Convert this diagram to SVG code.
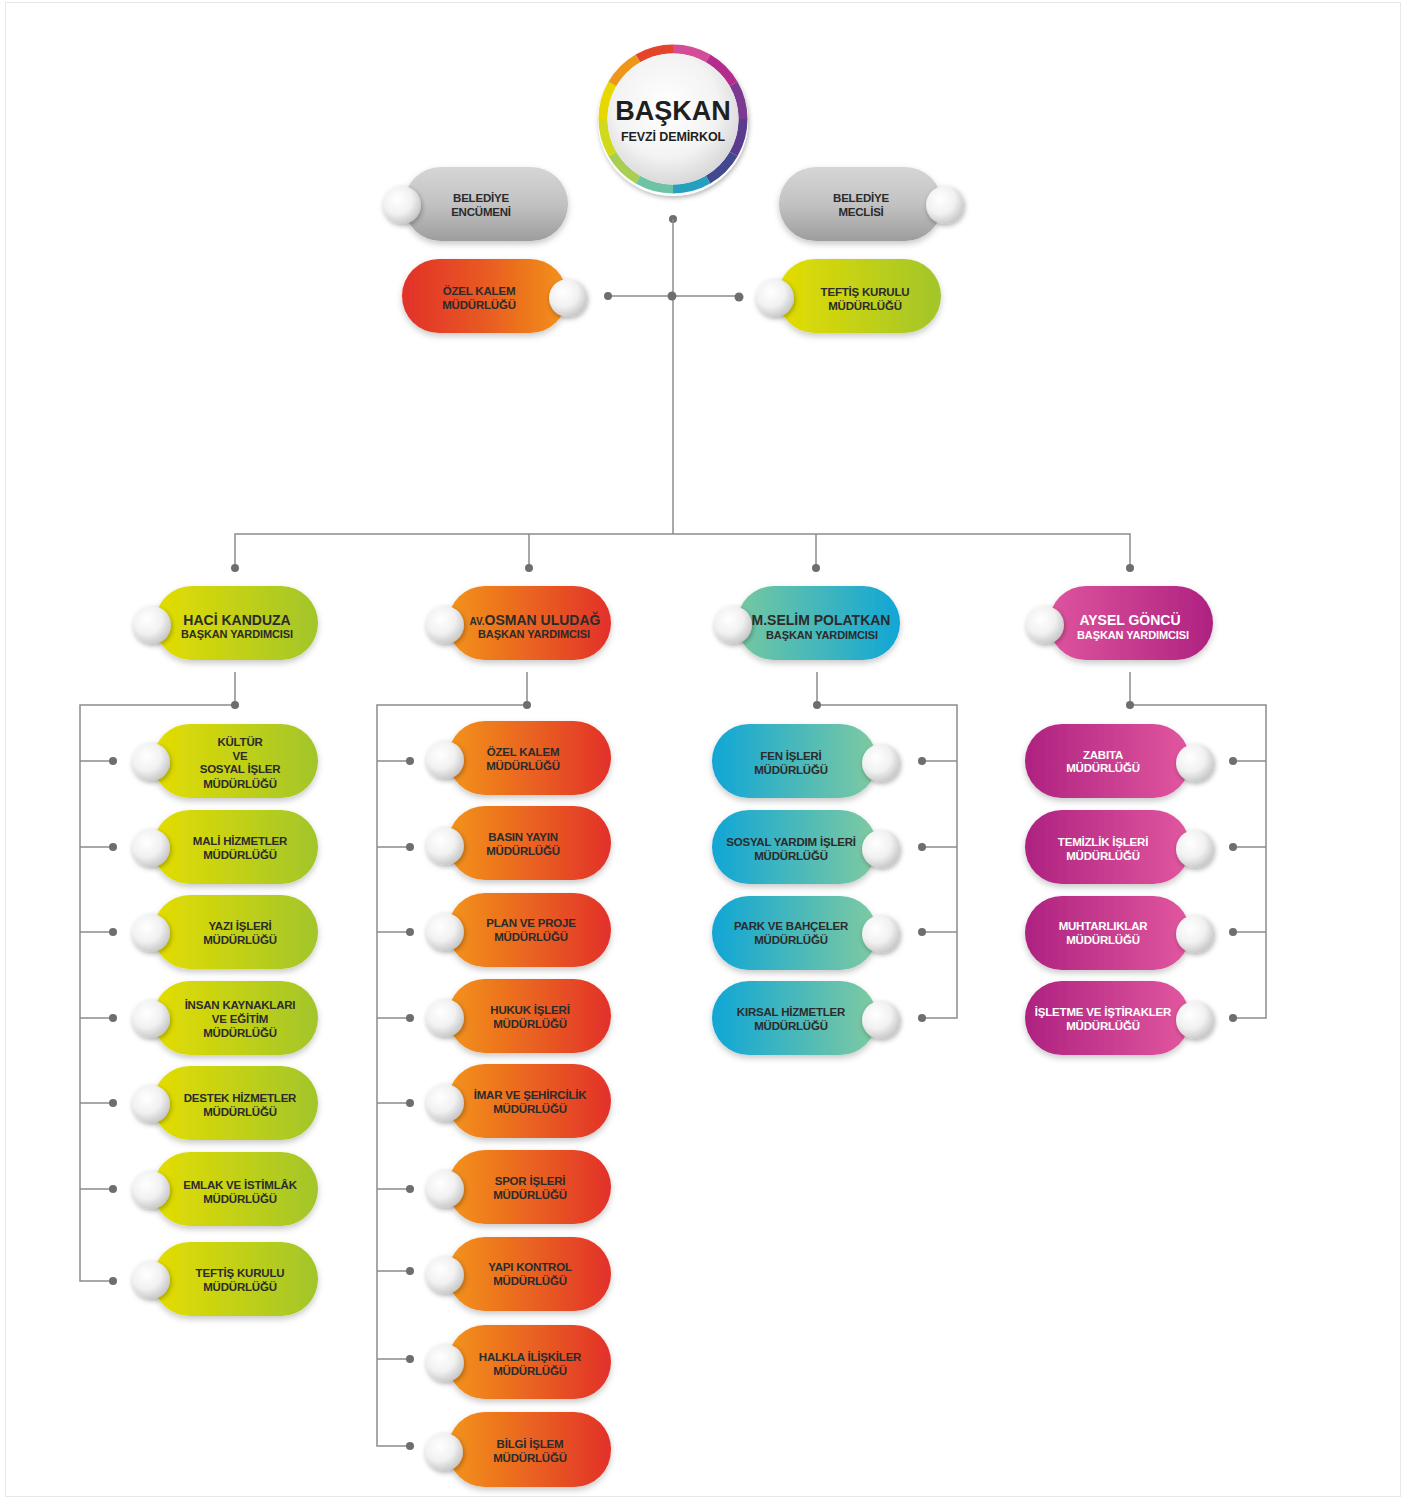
<svg xmlns="http://www.w3.org/2000/svg" width="1404" height="1501" viewBox="0 0 1404 1501">
<style>
.t{font-family:"Liberation Sans",Arial,sans-serif;font-weight:bold;font-size:11.5px;letter-spacing:-0.2px;fill:#2b2b2b;text-anchor:middle}
.w{fill:#ffffff}
.vn{font-size:14px;letter-spacing:0}
.vs{font-size:11px;letter-spacing:-0.1px}
.ln{stroke:#8c8c8c;stroke-width:1.5;fill:none}
.dot{fill:#6e6e6e}
.knob{fill:url(#knob);filter:url(#ks)}
.pill{filter:url(#ps)}
.ring{fill:none;stroke-width:9}
</style>
<defs>
<filter id="ps" x="-20%" y="-30%" width="140%" height="170%"><feDropShadow dx="0" dy="3" stdDeviation="3" flood-color="#000" flood-opacity="0.22"/></filter>
<filter id="ks" x="-50%" y="-50%" width="200%" height="200%"><feDropShadow dx="1" dy="2" stdDeviation="2.5" flood-color="#000" flood-opacity="0.3"/></filter>
<radialGradient id="knob" cx="38%" cy="35%" r="70%"><stop offset="0" stop-color="#ffffff"/><stop offset="0.55" stop-color="#f1f1f1"/><stop offset="1" stop-color="#c4c4c4"/></radialGradient>
<radialGradient id="core" cx="45%" cy="40%" r="65%"><stop offset="0" stop-color="#ffffff"/><stop offset="0.6" stop-color="#f3f3f3"/><stop offset="1" stop-color="#d2d2d2"/></radialGradient>
<linearGradient id="gray" x1="0" y1="0" x2="0" y2="1"><stop offset="0" stop-color="#d6d6d6"/><stop offset="0.5" stop-color="#c2c2c2"/><stop offset="1" stop-color="#9d9d9d"/></linearGradient>
<linearGradient id="yg" x1="0" y1="0" x2="1" y2="0"><stop offset="0" stop-color="#e4dd00"/><stop offset="1" stop-color="#a2c52b"/></linearGradient>
<linearGradient id="or" x1="0" y1="0" x2="1" y2="0"><stop offset="0" stop-color="#f39419"/><stop offset="0.6" stop-color="#e85a22"/><stop offset="1" stop-color="#e2302a"/></linearGradient>
<linearGradient id="ro" x1="0" y1="0" x2="1" y2="0"><stop offset="0" stop-color="#e2302a"/><stop offset="0.5" stop-color="#e85a22"/><stop offset="1" stop-color="#f39419"/></linearGradient>
<linearGradient id="tealVP" x1="0" y1="0" x2="1" y2="0"><stop offset="0" stop-color="#78c8a0"/><stop offset="1" stop-color="#10a6d6"/></linearGradient>
<linearGradient id="teal" x1="0" y1="0" x2="1" y2="0"><stop offset="0" stop-color="#10a6d6"/><stop offset="1" stop-color="#80caa0"/></linearGradient>
<linearGradient id="pinkVP" x1="0" y1="0" x2="1" y2="0"><stop offset="0" stop-color="#df549e"/><stop offset="1" stop-color="#ae2280"/></linearGradient>
<linearGradient id="pink" x1="0" y1="0" x2="1" y2="0"><stop offset="0" stop-color="#ae2280"/><stop offset="1" stop-color="#e2579f"/></linearGradient>
</defs>
<rect x="0" y="0" width="1404" height="1501" fill="#ffffff"/>
<rect x="5.5" y="2.5" width="1395" height="1494" fill="none" stroke="#e8e8e8" stroke-width="1"/>

<g id="connectors">
<circle class="dot" cx="673" cy="219" r="4"/>
<path class="ln" d="M673 219V534"/>
<path class="ln" d="M608 296H739"/>
<circle class="dot" cx="608" cy="296" r="4"/>
<circle class="dot" cx="672" cy="296" r="4.5"/>
<circle class="dot" cx="739" cy="297" r="4.5"/>
<path class="ln" d="M235 568V534H1130V568M529 534V568M816 534V568"/>
<circle class="dot" cx="235" cy="568" r="4"/>
<circle class="dot" cx="529" cy="568" r="4"/>
<circle class="dot" cx="816" cy="568" r="4"/>
<circle class="dot" cx="1130" cy="568" r="4"/>
<!-- column 1 -->
<path class="ln" d="M235 672V705H80V1281H113M80 761H113M80 847H113M80 932H113M80 1018H113M80 1103H113M80 1189H113"/>
<circle class="dot" cx="235" cy="705" r="4"/>
<circle class="dot" cx="113" cy="761" r="4"/>
<circle class="dot" cx="113" cy="847" r="4"/>
<circle class="dot" cx="113" cy="932" r="4"/>
<circle class="dot" cx="113" cy="1018" r="4"/>
<circle class="dot" cx="113" cy="1103" r="4"/>
<circle class="dot" cx="113" cy="1189" r="4"/>
<circle class="dot" cx="113" cy="1281" r="4"/>
<!-- column 2 -->
<path class="ln" d="M527 672V705H377V1446H410M377 761H410M377 847H410M377 932H410M377 1018H410M377 1103H410M377 1189H410M377 1271H410M377 1359H410"/>
<circle class="dot" cx="527" cy="705" r="4"/>
<circle class="dot" cx="410" cy="761" r="4"/>
<circle class="dot" cx="410" cy="847" r="4"/>
<circle class="dot" cx="410" cy="932" r="4"/>
<circle class="dot" cx="410" cy="1018" r="4"/>
<circle class="dot" cx="410" cy="1103" r="4"/>
<circle class="dot" cx="410" cy="1189" r="4"/>
<circle class="dot" cx="410" cy="1271" r="4"/>
<circle class="dot" cx="410" cy="1359" r="4"/>
<circle class="dot" cx="410" cy="1446" r="4"/>
<!-- column 3 -->
<path class="ln" d="M817 672V705H957V1018H922M957 761H922M957 847H922M957 932H922"/>
<circle class="dot" cx="817" cy="705" r="4"/>
<circle class="dot" cx="922" cy="761" r="4"/>
<circle class="dot" cx="922" cy="847" r="4"/>
<circle class="dot" cx="922" cy="932" r="4"/>
<circle class="dot" cx="922" cy="1018" r="4"/>
<!-- column 4 -->
<path class="ln" d="M1130 672V705H1266V1018H1233M1266 761H1233M1266 847H1233M1266 932H1233"/>
<circle class="dot" cx="1130" cy="705" r="4"/>
<circle class="dot" cx="1233" cy="761" r="4"/>
<circle class="dot" cx="1233" cy="847" r="4"/>
<circle class="dot" cx="1233" cy="932" r="4"/>
<circle class="dot" cx="1233" cy="1018" r="4"/>
</g>

<g id="baskan">
<circle cx="673" cy="121" r="75" fill="#ffffff" filter="url(#ks)"/>
<path class="ring" stroke="#d44b97" d="M673 49A70 70 0 0 1 708 58.38"/>
<path class="ring" stroke="#b42d8c" d="M708 58.38A70 70 0 0 1 733.62 84"/>
<path class="ring" stroke="#7b3a90" d="M733.62 84A70 70 0 0 1 743 119"/>
<path class="ring" stroke="#5a3b8e" d="M743 119A70 70 0 0 1 733.62 154"/>
<path class="ring" stroke="#42498f" d="M733.62 154A70 70 0 0 1 708 179.62"/>
<path class="ring" stroke="#27a0c0" d="M708 179.62A70 70 0 0 1 673 189"/>
<path class="ring" stroke="#6ec3a5" d="M673 189A70 70 0 0 1 638 179.62"/>
<path class="ring" stroke="#a8cf52" d="M638 179.62A70 70 0 0 1 612.38 154"/>
<path class="ring" stroke="#d0d91a" d="M612.38 154A70 70 0 0 1 603 119"/>
<path class="ring" stroke="#e6d800" d="M603 119A70 70 0 0 1 612.38 84"/>
<path class="ring" stroke="#ee961a" d="M612.38 84A70 70 0 0 1 638 58.38"/>
<path class="ring" stroke="#e4452a" d="M638 58.38A70 70 0 0 1 673 49"/>
<circle cx="673" cy="119" r="65.5" fill="url(#core)"/>
<text class="t" x="673" y="120" style="font-size:27px;letter-spacing:0;fill:#1f1f1f">BAŞKAN</text>
<text class="t" x="673" y="141" style="font-size:12.5px;letter-spacing:-0.1px;fill:#1f1f1f">FEVZİ DEMİRKOL</text>
</g>

<g id="belediye-encumeni">
<rect class="pill" x="404" y="167" width="164" height="74" rx="37" fill="url(#gray)"/>
<circle class="knob" cx="402" cy="205" r="19"/>
<text class="t" x="481" y="202">BELEDİYE</text>
<text class="t" x="481" y="216">ENCÜMENİ</text>
</g>
<g id="belediye-meclisi">
<rect class="pill" x="779" y="167" width="163" height="74" rx="37" fill="url(#gray)"/>
<circle class="knob" cx="945" cy="205" r="19"/>
<text class="t" x="861" y="202">BELEDİYE</text>
<text class="t" x="861" y="216">MECLİSİ</text>
</g>
<g id="ozel-kalem-top">
<rect class="pill" x="402" y="259" width="165" height="74" rx="37" fill="url(#ro)"/>
<circle class="knob" cx="568" cy="298" r="19"/>
<text class="t" x="479" y="295">ÖZEL KALEM</text>
<text class="t" x="479" y="309">MÜDÜRLÜĞÜ</text>
</g>
<g id="teftis-top">
<rect class="pill" x="778" y="259" width="163" height="74" rx="37" fill="url(#yg)"/>
<circle class="knob" cx="775" cy="298" r="19"/>
<text class="t" x="865" y="296">TEFTİŞ KURULU</text>
<text class="t" x="865" y="310">MÜDÜRLÜĞÜ</text>
</g>

<g id="vp-haci-kanduza">
<rect class="pill" x="155" y="586" width="163" height="74" rx="37" fill="url(#yg)"/>
<circle class="knob" cx="152" cy="625" r="19"/>
<text class="t vn" x="237" y="625">HACİ KANDUZA</text>
<text class="t vs" x="237" y="638">BAŞKAN YARDIMCISI</text>
</g>
<g id="vp-osman-uludag">
<rect class="pill" x="448" y="586" width="163" height="74" rx="37" fill="url(#or)"/>
<circle class="knob" cx="445" cy="625" r="19"/>
<text class="t vn" x="535" y="625"><tspan style="font-size:10px">AV.</tspan>OSMAN ULUDAĞ</text>
<text class="t vs" x="534" y="638">BAŞKAN YARDIMCISI</text>
</g>
<g id="vp-selim-polatkan">
<rect class="pill" x="737" y="586" width="163" height="74" rx="37" fill="url(#tealVP)"/>
<circle class="knob" cx="733" cy="625" r="19"/>
<text class="t vn" x="821" y="625">M.SELİM POLATKAN</text>
<text class="t vs" x="822" y="639">BAŞKAN YARDIMCISI</text>
</g>
<g id="vp-aysel-goncu">
<rect class="pill" x="1049" y="586" width="164" height="74" rx="37" fill="url(#pinkVP)"/>
<circle class="knob" cx="1045" cy="625" r="19"/>
<text class="t vn w" x="1130" y="625">AYSEL GÖNCÜ</text>
<text class="t vs w" x="1133" y="639">BAŞKAN YARDIMCISI</text>
</g>

<!-- column 1 children -->
<g id="kultur">
<rect class="pill" x="153" y="724" width="165" height="74" rx="37" fill="url(#yg)"/>
<circle class="knob" cx="151" cy="762" r="19"/>
<text class="t" x="240" y="746">KÜLTÜR</text>
<text class="t" x="240" y="760">VE</text>
<text class="t" x="240" y="773">SOSYAL İŞLER</text>
<text class="t" x="240" y="788">MÜDÜRLÜĞÜ</text>
</g>
<g id="mali">
<rect class="pill" x="153" y="810" width="165" height="74" rx="37" fill="url(#yg)"/>
<circle class="knob" cx="151" cy="848" r="19"/>
<text class="t" x="240" y="845">MALİ HİZMETLER</text>
<text class="t" x="240" y="859">MÜDÜRLÜĞÜ</text>
</g>
<g id="yazi">
<rect class="pill" x="153" y="895" width="165" height="74" rx="37" fill="url(#yg)"/>
<circle class="knob" cx="151" cy="933" r="19"/>
<text class="t" x="240" y="930">YAZI İŞLERİ</text>
<text class="t" x="240" y="944">MÜDÜRLÜĞÜ</text>
</g>
<g id="insan-kaynaklari">
<rect class="pill" x="153" y="981" width="165" height="74" rx="37" fill="url(#yg)"/>
<circle class="knob" cx="151" cy="1019" r="19"/>
<text class="t" x="240" y="1009">İNSAN KAYNAKLARI</text>
<text class="t" x="240" y="1023">VE EĞİTİM</text>
<text class="t" x="240" y="1037">MÜDÜRLÜĞÜ</text>
</g>
<g id="destek">
<rect class="pill" x="153" y="1066" width="165" height="74" rx="37" fill="url(#yg)"/>
<circle class="knob" cx="151" cy="1104" r="19"/>
<text class="t" x="240" y="1102">DESTEK HİZMETLER</text>
<text class="t" x="240" y="1116">MÜDÜRLÜĞÜ</text>
</g>
<g id="emlak">
<rect class="pill" x="153" y="1152" width="165" height="74" rx="37" fill="url(#yg)"/>
<circle class="knob" cx="151" cy="1190" r="19"/>
<text class="t" x="240" y="1189">EMLAK VE İSTİMLÂK</text>
<text class="t" x="240" y="1203">MÜDÜRLÜĞÜ</text>
</g>
<g id="teftis-kurulu">
<rect class="pill" x="153" y="1242" width="165" height="74" rx="37" fill="url(#yg)"/>
<circle class="knob" cx="151" cy="1280" r="19"/>
<text class="t" x="240" y="1277">TEFTİŞ KURULU</text>
<text class="t" x="240" y="1291">MÜDÜRLÜĞÜ</text>
</g>

<!-- column 2 children -->
<g id="ozel-kalem">
<rect class="pill" x="448" y="721" width="163" height="74" rx="37" fill="url(#or)"/>
<circle class="knob" cx="445" cy="760" r="19"/>
<text class="t" x="523" y="756">ÖZEL KALEM</text>
<text class="t" x="523" y="770">MÜDÜRLÜĞÜ</text>
</g>
<g id="basin-yayin">
<rect class="pill" x="448" y="806" width="163" height="74" rx="37" fill="url(#or)"/>
<circle class="knob" cx="445" cy="846" r="19"/>
<text class="t" x="523" y="841">BASIN YAYIN</text>
<text class="t" x="523" y="855">MÜDÜRLÜĞÜ</text>
</g>
<g id="plan-proje">
<rect class="pill" x="448" y="893" width="163" height="74" rx="37" fill="url(#or)"/>
<circle class="knob" cx="445" cy="932" r="19"/>
<text class="t" x="531" y="927">PLAN VE PROJE</text>
<text class="t" x="531" y="941">MÜDÜRLÜĞÜ</text>
</g>
<g id="hukuk">
<rect class="pill" x="448" y="979" width="163" height="74" rx="37" fill="url(#or)"/>
<circle class="knob" cx="445" cy="1018" r="19"/>
<text class="t" x="530" y="1014">HUKUK İŞLERİ</text>
<text class="t" x="530" y="1028">MÜDÜRLÜĞÜ</text>
</g>
<g id="imar">
<rect class="pill" x="448" y="1064" width="163" height="74" rx="37" fill="url(#or)"/>
<circle class="knob" cx="445" cy="1103" r="19"/>
<text class="t" x="530" y="1099">İMAR VE ŞEHİRCİLİK</text>
<text class="t" x="530" y="1113">MÜDÜRLÜĞÜ</text>
</g>
<g id="spor">
<rect class="pill" x="448" y="1150" width="163" height="74" rx="37" fill="url(#or)"/>
<circle class="knob" cx="445" cy="1189" r="19"/>
<text class="t" x="530" y="1185">SPOR İŞLERİ</text>
<text class="t" x="530" y="1199">MÜDÜRLÜĞÜ</text>
</g>
<g id="yapi-kontrol">
<rect class="pill" x="448" y="1237" width="163" height="74" rx="37" fill="url(#or)"/>
<circle class="knob" cx="445" cy="1275" r="19"/>
<text class="t" x="530" y="1271">YAPI KONTROL</text>
<text class="t" x="530" y="1285">MÜDÜRLÜĞÜ</text>
</g>
<g id="halkla-iliskiler">
<rect class="pill" x="448" y="1325" width="163" height="74" rx="37" fill="url(#or)"/>
<circle class="knob" cx="445" cy="1363" r="19"/>
<text class="t" x="530" y="1361">HALKLA İLİŞKİLER</text>
<text class="t" x="530" y="1375">MÜDÜRLÜĞÜ</text>
</g>
<g id="bilgi-islem">
<rect class="pill" x="448" y="1412" width="163" height="75" rx="37" fill="url(#or)"/>
<circle class="knob" cx="444" cy="1452" r="19"/>
<text class="t" x="530" y="1448">BİLGİ İŞLEM</text>
<text class="t" x="530" y="1462">MÜDÜRLÜĞÜ</text>
</g>

<!-- column 3 children -->
<g id="fen-isleri">
<rect class="pill" x="712" y="724" width="165" height="74" rx="37" fill="url(#teal)"/>
<circle class="knob" cx="881" cy="763" r="19"/>
<text class="t" x="791" y="760">FEN İŞLERİ</text>
<text class="t" x="791" y="774">MÜDÜRLÜĞÜ</text>
</g>
<g id="sosyal-yardim">
<rect class="pill" x="712" y="810" width="165" height="74" rx="37" fill="url(#teal)"/>
<circle class="knob" cx="881" cy="849" r="19"/>
<text class="t" x="791" y="846">SOSYAL YARDIM İŞLERİ</text>
<text class="t" x="791" y="860">MÜDÜRLÜĞÜ</text>
</g>
<g id="park-bahceler">
<rect class="pill" x="712" y="896" width="165" height="74" rx="37" fill="url(#teal)"/>
<circle class="knob" cx="881" cy="934" r="19"/>
<text class="t" x="791" y="930">PARK VE BAHÇELER</text>
<text class="t" x="791" y="944">MÜDÜRLÜĞÜ</text>
</g>
<g id="kirsal-hizmetler">
<rect class="pill" x="712" y="981" width="165" height="74" rx="37" fill="url(#teal)"/>
<circle class="knob" cx="881" cy="1020" r="19"/>
<text class="t" x="791" y="1016">KIRSAL HİZMETLER</text>
<text class="t" x="791" y="1030">MÜDÜRLÜĞÜ</text>
</g>

<!-- column 4 children -->
<g id="zabita">
<rect class="pill" x="1025" y="724" width="165" height="74" rx="37" fill="url(#pink)"/>
<circle class="knob" cx="1195" cy="763" r="19"/>
<text class="t w" x="1103" y="759">ZABITA</text>
<text class="t w" x="1103" y="772">MÜDÜRLÜĞÜ</text>
</g>
<g id="temizlik">
<rect class="pill" x="1025" y="810" width="165" height="74" rx="37" fill="url(#pink)"/>
<circle class="knob" cx="1195" cy="849" r="19"/>
<text class="t w" x="1103" y="846">TEMİZLİK İŞLERİ</text>
<text class="t w" x="1103" y="860">MÜDÜRLÜĞÜ</text>
</g>
<g id="muhtarliklar">
<rect class="pill" x="1025" y="896" width="165" height="74" rx="37" fill="url(#pink)"/>
<circle class="knob" cx="1195" cy="934" r="19"/>
<text class="t w" x="1103" y="930">MUHTARLIKLAR</text>
<text class="t w" x="1103" y="944">MÜDÜRLÜĞÜ</text>
</g>
<g id="isletme-istirakler">
<rect class="pill" x="1025" y="981" width="165" height="74" rx="37" fill="url(#pink)"/>
<circle class="knob" cx="1195" cy="1020" r="19"/>
<text class="t w" x="1103" y="1016">İŞLETME VE İŞTİRAKLER</text>
<text class="t w" x="1103" y="1030">MÜDÜRLÜĞÜ</text>
</g>
</svg>
